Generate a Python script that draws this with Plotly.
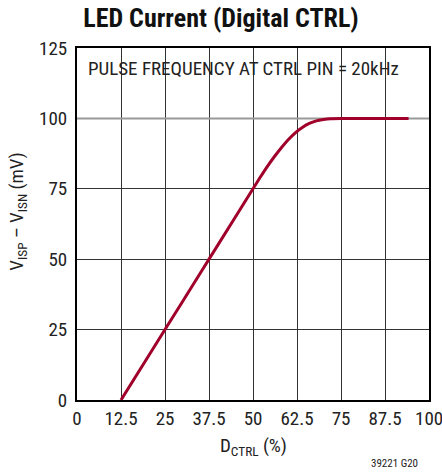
import plotly.graph_objects as go

# Data
duty_pct = [12.5, 20, 30, 40, 50, 52, 54, 56, 58, 60, 62, 64, 66, 68, 70, 72, 75, 80, 85, 90, 94.2]
vsense_mv = [0, 15, 35, 55, 75, 79, 82.8, 86.3, 89.5, 92.4, 94.9, 96.8, 98.2, 99.1, 99.6, 99.9, 100, 100, 100, 100, 100]

x_ticks = [0, 12.5, 25, 37.5, 50, 62.5, 75, 87.5, 100]
x_tick_text = ["0", "12.5", "25", "37.5", "50", "62.5", "75", "87.5", "100"]
y_ticks = [0, 25, 50, 75, 100, 125]

FONT = "Liberation Sans Narrow, Roboto Condensed, Arial Narrow, Liberation Sans, sans-serif"

fig = go.Figure()
fig.add_trace(go.Scatter(
    x=duty_pct, y=vsense_mv, mode="lines",
    line=dict(color="#a0002a", width=3, shape="spline", smoothing=0.6),
    showlegend=False, hoverinfo="skip",
))

# gray line at 100 mV
fig.add_shape(type="line", xref="x", yref="y", x0=0, x1=100, y0=100, y1=100,
              line=dict(color="#999999", width=2), layer="between")
# white band behind the note
fig.add_shape(type="rect", xref="paper", yref="y", x0=0.003, x1=0.997, y0=113.2, y1=122.6,
              fillcolor="white", line=dict(width=0), layer="between")

# the last x tick label reaches the figure edge; plotly would hide it, so draw it as an annotation
edge_label = dict(text=x_tick_text[-1], xref="x", yref="paper", x=x_ticks[-1],
                  y=-(418 - 400) / 351.5, xanchor="center", yanchor="middle",
                  showarrow=False, font=dict(size=19, color="#222222"))

fig.update_layout(
    width=442, height=472,
    margin=dict(l=77, r=13, t=48, b=72),
    paper_bgcolor="white", plot_bgcolor="white",
    font=dict(family=FONT, size=19, color="#222222"),
    title=dict(text="<b>LED Current (Digital CTRL)</b>", x=0.5, xanchor="center",
               y=1 - 18 / 472, yanchor="middle",
               font=dict(family=FONT, size=26, color="#111111")),
    xaxis=dict(range=[0, 100], tickvals=x_ticks[:-1], ticktext=x_tick_text[:-1],
               showgrid=True, gridcolor="#333333", gridwidth=1.3,
               showline=True, linecolor="black", linewidth=2, mirror=True,
               ticks="", zeroline=False, tickfont=dict(size=19)),
    yaxis=dict(range=[0, 125], tickvals=y_ticks,
               showgrid=True, gridcolor="#333333", gridwidth=1.3,
               showline=True, linecolor="black", linewidth=2, mirror=True,
               ticks="", zeroline=False, tickfont=dict(size=19), ticklabelstandoff=4),
    annotations=[
        edge_label,
        dict(text="PULSE FREQUENCY AT CTRL PIN = 20kHz", xref="paper", yref="paper",
             x=(86 - 77) / 352, y=(400 - 68.5) / 351.5, xanchor="left", yanchor="middle",
             showarrow=False, font=dict(size=19, color="#222222")),
        dict(text="D<sub>CTRL</sub> (%)", xref="paper", yref="paper",
             x=0.5, y=-(446 - 400) / 351.5, xanchor="center", yanchor="middle",
             showarrow=False, font=dict(size=19, color="#222222")),
        dict(text="V<sub>ISP</sub> – V<sub>ISN</sub> (mV)", xref="paper", yref="paper",
             x=-(77 - 18) / 352, y=(400 - 212) / 351.5, xanchor="center", yanchor="middle",
             textangle=-90, showarrow=False, font=dict(size=19, color="#222222")),
        dict(text="39221 G20", xref="paper", yref="paper",
             x=(420 - 77) / 352, y=-(463 - 400) / 351.5, xanchor="right", yanchor="middle",
             showarrow=False, font=dict(size=11, color="#222222")),
    ],
)

fig.write_html("out.html", config={"displayModeBar": False},
               post_script="document.body.style.margin='0';")
